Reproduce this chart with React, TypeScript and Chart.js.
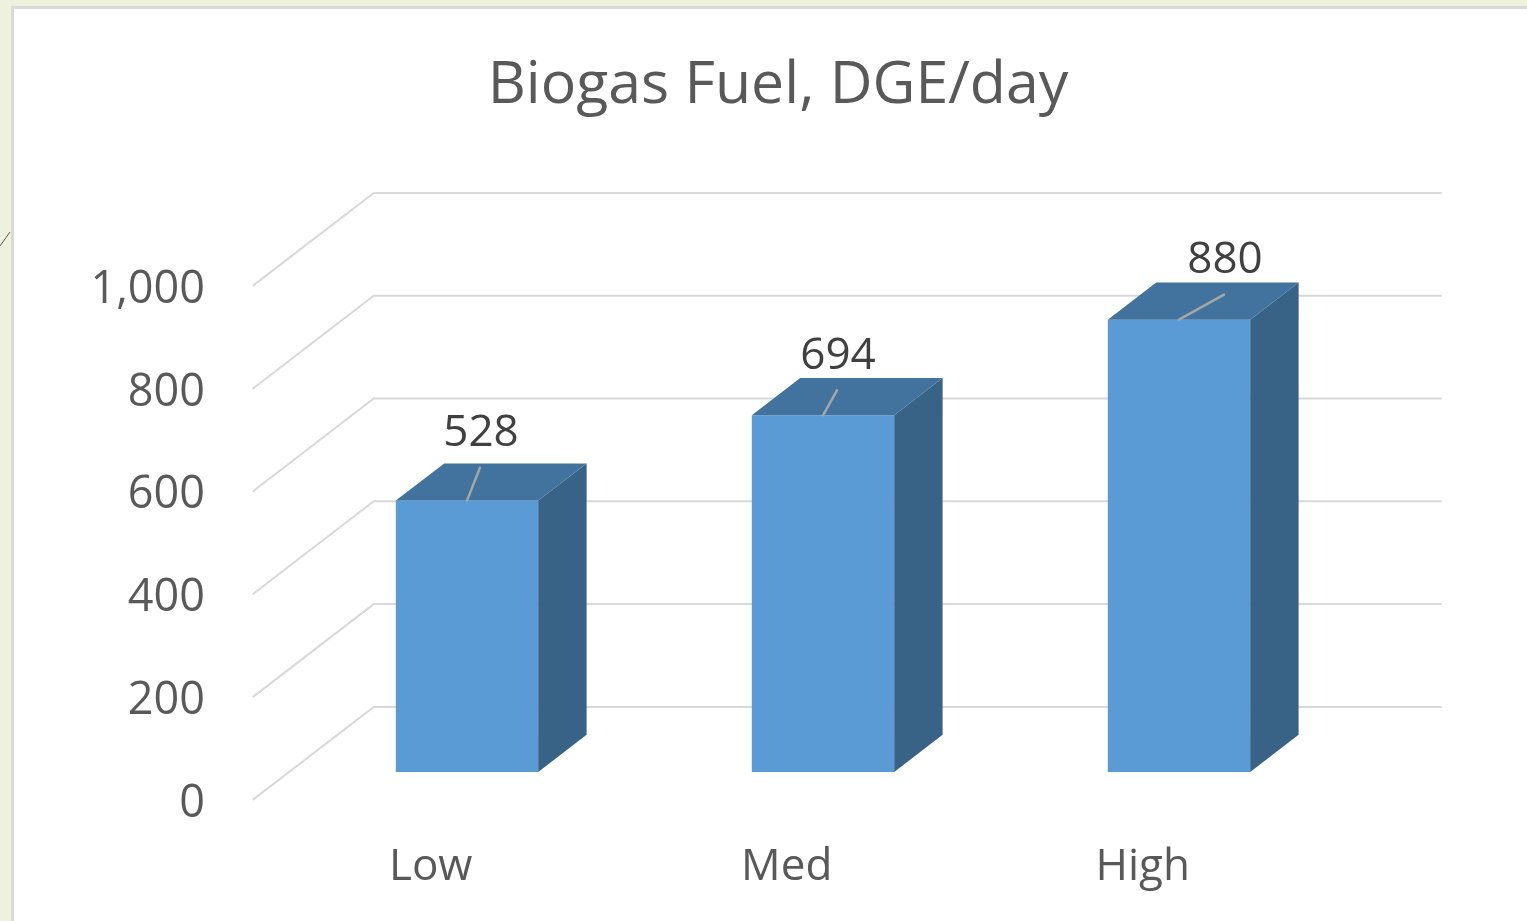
import React, { useEffect, useRef } from "react";
import { Chart, registerables } from "chart.js";

Chart.register(...registerables);

// ---- data ----
const categories = ["Low", "Med", "High"];
const fuelValues = [528, 694, 880];
const yTickStep = 200;
const yMax = 1000;
const titleText = "Biogas Fuel, DGE/day";

// ---- style / geometry ----
const W = 1527;
const H = 921;
const FONT = "'Open Sans', 'Noto Sans', sans-serif";
const DEPTH = { x: 121, y: -93 }; // full floor depth vector
const FRONT_FRAC = 0.3; // position of the bar front plane inside the depth
const BAR_DEPTH = 0.4; // bar depth as fraction of floor depth
const TEXT_DY = 3; // small baseline correction for the substitute font
const TITLE_SIZE = 59;
const TITLE_TOP = 51;
const PLOT_TOP = 258;
const PAD_LEFT = 80;
const PAD_RIGHT = 51;
const PLOT_LEFT = 289;
const PLOT_RIGHT = 1357;
const labelNudges = [
  { dx: 14, dy: -70 },
  { dx: 15, dy: -62 },
  { dx: 46, dy: -62 },
];
const COLORS = {
  page: "#eef1de",
  frameBorder: "#d9d9d9",
  grid: "#d9d9d9",
  front: "#5b9bd5",
  top: "#42739f",
  side: "#386387",
  axisText: "#595959",
  dataText: "#404040",
  leader: "#a6a6a6",
};

const backgroundPlugin = {
  id: "slideBackground",
  beforeDraw(chart: any) {
    const ctx = chart.ctx;
    ctx.save();
    ctx.fillStyle = COLORS.page;
    ctx.fillRect(0, 0, W, H);
    ctx.fillStyle = COLORS.frameBorder;
    ctx.fillRect(11, 6, W, H);
    ctx.fillStyle = "#ffffff";
    ctx.fillRect(14, 9, W, H);
    ctx.strokeStyle = "#6b5a3a";
    ctx.lineWidth = 1;
    ctx.beginPath();
    ctx.moveTo(0, 246);
    ctx.lineTo(10, 232);
    ctx.stroke();
    ctx.restore();
  },
};

const wallsPlugin = {
  id: "walls3d",
  beforeDatasetsDraw(chart: any) {
    const ctx = chart.ctx;
    const ys = chart.scales.y;
    const area = chart.chartArea;
    const fx = -FRONT_FRAC * DEPTH.x;
    const fy = -FRONT_FRAC * DEPTH.y;
    const bx = (1 - FRONT_FRAC) * DEPTH.x;
    const by = (1 - FRONT_FRAC) * DEPTH.y;
    ctx.save();
    ctx.strokeStyle = COLORS.grid;
    ctx.lineWidth = 2;
    ys.ticks.forEach((t: any) => {
      const y = ys.getPixelForValue(t.value);
      ctx.beginPath();
      ctx.moveTo(area.left + fx, y + fy);
      ctx.lineTo(area.left + bx, y + by);
      ctx.lineTo(area.right + bx, y + by);
      ctx.stroke();
    });
    ctx.restore();
  },
};

const barsPlugin = {
  id: "bars3d",
  afterDatasetsDraw(chart: any) {
    const ctx = chart.ctx;
    const meta = chart.getDatasetMeta(0);
    const dx = BAR_DEPTH * DEPTH.x;
    const dy = BAR_DEPTH * DEPTH.y;
    ctx.save();
    meta.data.forEach((el: any, i: number) => {
      const { x, y, base, width } = el.getProps(["x", "y", "base", "width"], true);
      const l = x - width / 2;
      const r = x + width / 2;
      // side face
      ctx.fillStyle = COLORS.side;
      ctx.beginPath();
      ctx.moveTo(r, y);
      ctx.lineTo(r + dx, y + dy);
      ctx.lineTo(r + dx, base + dy);
      ctx.lineTo(r, base);
      ctx.closePath();
      ctx.fill();
      // top face
      ctx.fillStyle = COLORS.top;
      ctx.beginPath();
      ctx.moveTo(l, y);
      ctx.lineTo(l + dx, y + dy);
      ctx.lineTo(r + dx, y + dy);
      ctx.lineTo(r, y);
      ctx.closePath();
      ctx.fill();
      // leader line and label
      const n = labelNudges[i] || { dx: 15, dy: -64 };
      const lx = x + n.dx;
      const ly = y + n.dy;
      ctx.strokeStyle = COLORS.leader;
      ctx.lineWidth = 2.5;
      ctx.lineCap = "round";
      ctx.beginPath();
      ctx.moveTo(x, y);
      ctx.lineTo(lx - 1, ly + 37);
      ctx.stroke();
      ctx.fillStyle = COLORS.dataText;
      ctx.font = `44px ${FONT}`;
      ctx.textAlign = "center";
      ctx.textBaseline = "middle";
      ctx.fillText(String(fuelValues[i]), lx, ly + TEXT_DY);
    });
    ctx.restore();
  },
};

export default function App() {
  const ref = useRef<HTMLCanvasElement | null>(null);

  useEffect(() => {
    if (!ref.current) return;
    const chart = new Chart(ref.current, {
      type: "bar",
      data: {
        labels: categories,
        datasets: [
          {
            data: fuelValues,
            backgroundColor: COLORS.front,
            borderWidth: 0,
            barPercentage: 0.4,
            categoryPercentage: 1,
          },
        ],
      },
      options: {
        responsive: false,
        animation: false,
        devicePixelRatio: 1,
        layout: { padding: { left: PAD_LEFT, right: PAD_RIGHT, top: TITLE_TOP, bottom: 0 } },
        plugins: {
          legend: { display: false },
          tooltip: { enabled: false },
          title: {
            display: true,
            text: titleText,
            color: COLORS.axisText,
            font: { family: FONT, size: TITLE_SIZE, weight: "normal", lineHeight: 1.2 },
            padding: { top: 0, bottom: PLOT_TOP - TITLE_TOP - TITLE_SIZE * 1.2 },
          },
        },
        scales: {
          x: {
            grid: { display: false, drawTicks: false, tickLength: 0 },
            border: { display: false },
            ticks: {
              color: COLORS.axisText,
              font: { family: FONT, size: 44 },
              padding: 66 + TEXT_DY,
              labelOffset: -FRONT_FRAC * DEPTH.x,
            },
            afterFit: (s: any) => {
              s.height = 149;
            },
          },
          y: {
            min: 0,
            max: yMax,
            grid: { display: false, drawTicks: false, tickLength: 0 },
            border: { display: false },
            ticks: {
              stepSize: yTickStep,
              color: COLORS.axisText,
              font: { family: FONT, size: 45 },
              padding: 84,
              labelOffset: -FRONT_FRAC * DEPTH.y + TEXT_DY + 1,
              callback: (v: any) => Number(v).toLocaleString("en-US"),
            },
            afterFit: (s: any) => {
              s.width = PLOT_LEFT - PAD_LEFT;
            },
          },
          // empty right-hand spacer so the title centres like the original
          spacer: {
            type: "linear",
            position: "right",
            display: true,
            grid: { display: false, drawTicks: false },
            border: { display: false },
            ticks: { display: false },
            afterFit: (s: any) => {
              s.width = W - PAD_RIGHT - PLOT_RIGHT;
            },
          },
        },
      } as any,
      plugins: [backgroundPlugin, wallsPlugin, barsPlugin],
    });
    return () => chart.destroy();
  }, []);

  return (
    <div style={{ position: "fixed", left: 0, top: 0, width: W, height: H }}>
      <canvas ref={ref} width={W} height={H} style={{ display: "block" }} />
    </div>
  );
}
